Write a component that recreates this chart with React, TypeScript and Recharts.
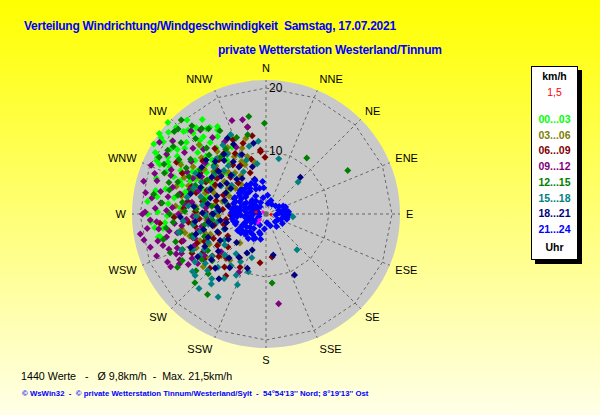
import React from 'react';
import {
  ScatterChart, Scatter, XAxis, YAxis,
  RadarChart, Radar, PolarGrid, PolarAngleAxis, PolarRadiusAxis,
  PieChart, Pie,
} from 'recharts';

// ---------- DATA ----------
const directions = ['N', 'NNE', 'NE', 'ENE', 'E', 'ESE', 'SE', 'SSE', 'S', 'SSW', 'SW', 'WSW', 'W', 'WNW', 'NW', 'NNW'];
const radiusDomain: [number, number] = [0, 20];
const diskMax = 21.27; // km/h at the edge of the grey disk

// [direction in degrees, speed in km/h]
const h00_03: [number, number][] = [
  [313, 21.3], [307, 21.2], [315, 18.5], [325, 16.5], [330, 15.4], [305, 19.9], [304, 18.3], [296, 19.3], [296, 17], [269, 15.7],
  [265, 16.1], [262, 16.5], [258, 17.2], [279, 17.5], [315, 12.1], [316, 9], [304, 6.9], [317, 18.2], [331, 15.9], [333, 11.9],
  [298, 19.4], [298, 17.6], [306, 17.4], [318, 15.7], [321, 15.8], [322, 14.4], [312, 14.6], [300, 13.5], [289, 14.1], [258, 17.5],
  [271, 17.2], [310, 20.2], [320, 19.5], [326, 18.1], [292, 15.8], [284, 16.4], [301, 15.9], [309, 16.6], [314, 13.2], [305, 11.5],
  [296, 12.4], [287, 12.9], [280, 14.8], [274, 13.6], [323, 13.1], [328, 14.5], [311, 10.5], [300, 9.8], [292, 10.9], [286, 9.6],
  [318, 17.3], [302, 21], [335, 13.6], [295, 18.6], [276, 18.9], [266, 18.3],
  [303, 16.8], [297, 15.2], [308, 18.9], [314, 19.8], [321, 17.6], [327, 16.4], [312, 17], [300, 18], [293, 17.2], [288, 18.3],
  [282, 17.9], [276, 15.6], [270, 18.8], [263, 17.8], [268, 14.6], [285, 13.3], [291, 14.6], [307, 14.1], [317, 11.6], [324, 10.6],
  [310, 12.3], [302, 12.9], [294, 13.1], [298, 11], [289, 11.6], [278, 12.1], [272, 11.3], [316, 15], [306, 20.6], [299, 20.1],
];
const h03_06: [number, number][] = [
  [319, 11.7], [337, 8.5], [323, 8.2], [348, 8.3], [257, 13.2], [230, 13], [222, 6.2], [311, 13.6], [301, 10.4], [313, 9.4],
  [306, 12.1], [297, 11.5], [290, 13.1], [284, 10.6], [278, 12.2], [270, 10.9], [263, 11.8], [292, 8.9], [281, 8.2], [268, 7.6],
  [304, 7.3], [328, 11.4], [316, 15.3], [300, 15.6], [287, 14.9], [275, 14.4], [252, 10.1], [244, 12.3], [238, 8.9], [296, 6.5],
  [320, 6.1], [333, 13.4],
  [309, 10.7], [303, 13.8], [299, 12.4], [294, 14.2], [288, 11.9], [282, 13.7], [276, 11.2], [272, 13.3], [266, 12.6], [260, 13.6],
  [254, 12.6], [248, 11.3], [242, 10.2], [234, 11.7], [227, 9.7], [218, 9.3], [286, 7.2], [278, 9.6], [264, 9.4], [257, 8.6],
  [250, 9.4], [314, 11.1], [324, 9.7], [331, 10.4], [340, 11.1], [308, 8.4], [297, 9.3], [289, 10.2],
  [318, 8.9], [327, 7.3], [335, 9.2], [342, 9.6], [310, 6.3], [322, 12.6], [345, 12.4], [330, 12.2],
];
const h06_09: [number, number][] = [
  [359, 9], [355, 10.2], [348, 14.1], [187, 7.8], [172, 6.9], [211, 8.1], [247, 11.9], [242, 13.3], [355, 9.9], [339, 7],
  [228, 10.1], [222, 9.4], [234, 12.2], [256, 10.6], [264, 12.4], [272, 11.2], [281, 10.3], [290, 12.6], [298, 10.8], [306, 9.6],
  [285, 8.2], [270, 8.6], [258, 8.4], [245, 9.2], [296, 14.8], [283, 13.9], [268, 14.6], [252, 14.1], [310, 13.1], [319, 11.4],
  [276, 6.9], [262, 6.4], [240, 7], [326, 9.4], [300, 16.4], [265, 16.9],
  [300, 9.3], [292, 10.1], [287, 11.6], [279, 12.6], [274, 13.1], [266, 10.6], [260, 11.4], [252, 12.2], [246, 10.7], [239, 11.6],
  [232, 10.8], [226, 12.4], [218, 10.7], [206, 9.4], [213, 11.7], [302, 12.3], [312, 10.4], [322, 13.2], [333, 10.8], [342, 11.8],
  [294, 7.4], [283, 6.2], [268, 5.6], [256, 6.9], [248, 8.1], [237, 9.2], [229, 8], [272, 9.6],
  [316, 8.1], [325, 11.7], [332, 8.7], [345, 9], [350, 12.6], [318, 6.6], [336, 12.9],
];
const h09_12: [number, number][] = [
  [271, 19.2], [263, 19], [278, 18.3], [276, 16.8], [256, 17.7], [253, 17.1], [242, 15.5], [240, 15.9], [346, 15.4], [348, 14.1],
  [172, 14.4], [290, 18.8], [301, 18.4], [270, 19.6], [307, 16.2], [316, 14.3], [249, 15.1], [205, 10.2], [282, 17.1], [286, 15.4],
  [266, 17.4], [260, 15.6], [295, 16.6], [298, 14.2], [274, 14.9], [262, 13.5], [252, 13.8], [246, 12.6], [288, 12.7], [279, 11.9],
  [268, 11.6], [256, 11.1], [300, 11.8], [310, 12.6], [292, 9.8], [276, 9.6], [264, 9.2], [248, 10.2], [236, 11.8], [230, 9.3],
  [285, 20.1], [304, 20.4], [293, 19.8], [322, 16.9], [258, 19.8], [244, 17.4], [270, 13.9], [283, 14.1], [237, 14.7],
  [267, 18.4], [273, 17.6], [280, 19.4], [262, 17.2], [257, 16.2], [250, 16.4], [245, 14.8], [239, 13.7], [254, 19.1], [249, 18.6],
  [261, 20.2], [287, 18.1], [292, 16.3], [280, 15.8], [272, 15.8], [264, 14.6], [258, 14.4], [266, 12.7], [277, 13.1], [289, 11.3],
  [296, 12.9], [305, 14.5], [312, 15.6], [318, 17.8], [308, 18.8], [246, 15.6], [241, 17.3], [234, 13.4], [251, 11.9], [259, 10.4],
  [330, 13.2], [340, 15.8], [336, 11.6], [325, 14.8],
];
const h12_15: [number, number][] = [
  [314, 19.4], [323, 17], [350, 15.7], [359, 14.4], [36, 11], [62, 14.7], [175, 11], [216, 15.8], [226, 15.7], [239, 16.4],
  [248, 16.4], [339, 13], [347, 12.9], [318, 20.1], [310, 17.6], [302, 16.3], [292, 17.4], [284, 15.8], [276, 16.6], [265, 14.8],
  [258, 13.9], [296, 13.6], [306, 14.8], [318, 14.1], [328, 12.1], [287, 12.4], [272, 12.9], [262, 11.7], [254, 12.2], [244, 13.1],
  [300, 10.8], [283, 10.1], [268, 9.6], [313, 11.3], [331, 15.1], [298, 19.2], [280, 18.1], [235, 12.5], [256, 16.8], [290, 14.9],
  [306, 18.2],
  [320, 18.3], [326, 16.3], [312, 19.6], [303, 18.6], [296, 18], [288, 16.2], [282, 14.3], [278, 13.4], [270, 15.3], [262, 16],
  [253, 15], [247, 14.4], [241, 15.2], [231, 14.3], [224, 13.2], [229, 11.3], [238, 10.9], [250, 10.4], [260, 9.9], [274, 11.1],
  [292, 12.1], [304, 12.6], [316, 13], [322, 11.6], [308, 10.4], [294, 9.6], [278, 8.7], [264, 8.6], [317, 16.4], [300, 14.6],
];
const h15_18: [number, number][] = [
  [13, 9], [45, 7.2], [139, 7.5], [96, 4.3], [92, 3.8], [354, 11.6], [229, 14.9], [231, 12.4], [198, 7.3], [233, 8.2],
  [197, 9.6], [336, 10.2], [238, 12.3], [236, 13.6], [214, 9.9], [208, 8.6], [244, 10.2], [252, 12.1], [260, 9.3], [268, 11.1],
  [276, 12.4], [285, 10.7], [294, 9.8], [302, 8.4], [312, 11.1], [258, 14.2], [247, 14.6], [273, 7.9], [286, 6.7], [250, 7.1],
  [222, 11.4], [218, 14.1], [265, 13.2], [300, 12.9], [320, 8.1],
  [240, 11.3], [232, 10.9], [226, 12.9], [220, 13.4], [213, 12.2], [206, 10.8], [202, 12.1], [225, 9.2], [217, 7.9], [244, 12.9],
  [255, 10.8], [262, 11.6], [270, 9.6], [278, 10.2], [282, 12.8], [290, 12.2], [296, 11.4], [306, 10.3], [316, 9.6], [327, 11.3],
  [261, 7.8], [268, 8.6], [238, 7.8], [232, 14.8], [210, 15.2], [222, 15.9],
  [322, 9.7], [332, 7.6], [340, 9.1], [346, 11.1], [350, 8.1], [328, 12.9], [318, 11.8], [310, 7.1], [336, 13.8],
];
const h18_21: [number, number][] = [
  [43, 8], [170, 6.6], [155, 10.7], [333, 13.5], [223, 11.8], [214, 10.3], [199, 9.1], [201, 6.1], [328, 9.8], [314, 5.5],
  [242, 11], [250, 8.2], [258, 6.4], [266, 5.3], [274, 7.4], [282, 6.1], [290, 8.3], [298, 7.2], [306, 6.9], [262, 9.2],
  [271, 10.1], [280, 9.4], [292, 11.2], [304, 10.4], [318, 8.3], [246, 13.1], [232, 9.6], [254, 11.6], [285, 12.4], [236, 7.2],
  [226, 6.5], [312, 12.8], [268, 13.6],
  [262, 7.3], [270, 8.4], [278, 7.8], [286, 9.2], [294, 9.6], [302, 8.6], [310, 9.3], [322, 10.8], [316, 11.6], [300, 12.2],
  [276, 11.5], [264, 11.3], [256, 10.2], [248, 9.9], [240, 8.4], [230, 11.3], [220, 9.1], [212, 8.1], [206, 6.9], [216, 12.7],
  [238, 12.8], [250, 6.9], [258, 8.7], [288, 6.9], [296, 5.6], [308, 7.9], [326, 6.8],
  [320, 7.2], [330, 8.6], [338, 10.2], [344, 7.8], [350, 11.4], [325, 11.6], [335, 12.2], [312, 10.1], [306, 12.6], [342, 5.8],
];
const h21_24: [number, number][] = [
  [270, 2], [272, 3], [268, 4], [265, 4.6], [275, 4.8], [280, 3.5], [285, 4.2], [290, 2.9], [295, 4.6], [300, 3.6],
  [305, 5.1], [310, 4.2], [315, 3.1], [320, 5.2], [325, 4.4], [330, 3.3], [338, 4.3], [342, 5.6], [354, 5.2], [326, 5.5],
  [316, 5.3], [250, 3.2], [255, 4.9], [245, 4.1], [240, 2.7], [235, 4.6], [230, 3.3], [225, 4.6], [212, 3.9], [192, 4.1],
  [207, 4.4], [233, 5], [200, 3.1], [174, 1.4], [260, 2.4], [262, 5.4], [278, 5.5], [288, 5.4], [298, 5.6], [308, 5.4],
  [283, 1.3], [300, 1.8], [250, 1.2], [240, 5.2], [258, 5.3], [272, 5.5], [262, 3.4], [267, 5], [273, 4.3], [278, 4.2],
  [283, 5.1], [287, 3.3], [292, 5.2], [297, 2.4], [302, 4.6], [307, 3], [312, 5.5], [318, 4.4], [322, 2.6], [328, 4.8],
  [334, 5.4], [340, 4.9], [346, 4.2], [252, 5.1], [247, 2.3], [242, 4.5], [237, 3.7], [228, 4.2], [220, 3], [216, 4.8],
  [204, 4.2], [196, 3.3], [186, 2.4], [355, 4.2], [350, 2.6], [5, 3], [290, 1.6], [270, 1.1], [240, 1.7], [210, 2],
  [276, 2.4], [284, 2.2], [256, 2.7], [310, 2.2], [320, 1.5], [335, 2], [264, 3.2], [281, 4.6], [294, 3.8], [304, 2.7],
  [314, 4.8], [248, 3.6], [232, 2.2], [222, 3.8],
  [77, 2.8], [100, 3.4], [90, 3.2], [85, 2.1], [110, 2.5], [120, 3], [70, 3.3], [60, 2.4], [95, 1.6], [130, 1.9],
  [20, 2.3], [80, 3.3], [88, 2.6], [74, 2.1], [96, 2.8], [116, 2.1], [65, 3], [50, 2], [30, 1.8], [10, 1.7],
  [160, 2], [140, 2.6], [104, 3.4], [84, 3.6], [92, 3.5],
];
const calmRed: [number, number][] = [[281, 1.6], [95, 0.8]];
const calmMagenta: [number, number][] = [[225, 1.35], [222, 1.9], [304, 0.6], [230, 1.5]];

const hourLabels = ['00...03', '03...06', '06...09', '09...12', '12...15', '15...18', '18...21', '21...24'];
const hourColors = ['#00ff00', '#808000', '#800000', '#800080', '#008000', '#008080', '#000080', '#0000ff'];
const hourData = [h00_03, h03_06, h06_09, h09_12, h12_15, h15_18, h18_21, h21_24];

const titleText = 'Verteilung Windrichtung/Windgeschwindigkeit  Samstag, 17.07.2021';
const subtitleText = 'private Wetterstation Westerland/Tinnum';
const statsText = '1440 Werte   -   Ø 9,8km/h  -  Max. 21,5km/h';
const footerText = "© WsWin32  -  © private Wetterstation Tinnum/Westerland/Sylt  -  54°54'13'' Nord; 8°19'13'' Ost";
const calmLabel = '1,5';

// ---------- helpers ----------
const toXY = (pts: [number, number][]) =>
  pts.map(([d, s]) => ({ x: s * Math.sin((d * Math.PI) / 180), y: s * Math.cos((d * Math.PI) / 180) }));

const dirTable = directions.map((d) => ({ dir: d, zero: 0 }));

const FONT = '"Liberation Sans", Arial, sans-serif';
const CX = 266;
const CY = 214;
const R_DISK = 134;
const R_20 = 126;
const GRID_STROKE = '#666666';
const GRID_DASH = '3 3';

const makeDiamond = (r: number) => (props: any) => {
  const { cx, cy, fill } = props;
  if (cx == null || cy == null) return <g />;
  return <path d={`M${cx},${cy - r}L${cx + r},${cy}L${cx},${cy + r}L${cx - r},${cy}Z`} fill={fill} />;
};
const Diamond = makeDiamond(3.5);
const SmallDiamond = makeDiamond(2);

const AngleTick = (props: any) => {
  const { x, y, payload } = props;
  const rad = (payload.coordinate * Math.PI) / 180;
  const ux = Math.cos(rad);
  const uy = -Math.sin(rad);
  const anchor = Math.abs(ux) < 1e-5 ? 'middle' : ux > 0 ? 'start' : 'end';
  return (
    <text x={x - 2 * ux} y={y + 4 * uy} textAnchor={anchor} dominantBaseline="central" fontSize={11} fontFamily={FONT} fill="#000">
      {payload.value}
    </text>
  );
};

const RadiusTick = (props: any) => {
  const { x, y, payload } = props;
  if (!payload || payload.value === 0) return <g />;
  return (
    <text x={x + 3} y={y} textAnchor="start" dominantBaseline="central" fontSize={12} fontFamily={FONT} fill="#000">
      {payload.value}
    </text>
  );
};

const layer: React.CSSProperties = { position: 'absolute', left: 0, top: 0 };
const zeroMargin = { top: 0, right: 0, bottom: 0, left: 0 };

export default function App() {
  return (
    <div
      style={{
        position: 'absolute', left: 0, top: 0, width: 600, height: 415, overflow: 'hidden',
        background: 'linear-gradient(to bottom, #ffff00 0%, #ffff66 45%, #ffffe8 100%)',
        fontFamily: FONT,
      }}
    >
      {/* grey disk */}
      <div style={layer}>
        <PieChart width={600} height={415} margin={zeroMargin}>
          <Pie data={[{ v: 1 }]} dataKey="v" cx={CX} cy={CY} outerRadius={R_DISK} innerRadius={0}
            fill="#c9c9c9" stroke="none" isAnimationActive={false} />
        </PieChart>
      </div>
      {/* spokes + direction labels */}
      <div style={layer}>
        <RadarChart width={600} height={415} cx={CX} cy={CY} outerRadius={R_DISK} data={dirTable} margin={zeroMargin}>
          <PolarGrid gridType="polygon" polarRadius={[0]} fill="none" stroke={GRID_STROKE} strokeDasharray={GRID_DASH} />
          <PolarAngleAxis dataKey="dir" tick={AngleTick} tickLine={false} axisLine={false} />
          <Radar dataKey="zero" fill="none" stroke="none" dot={false} isAnimationActive={false} />
        </RadarChart>
      </div>
      {/* rings 10 / 20 + radius labels */}
      <div style={layer}>
        <RadarChart width={600} height={415} cx={CX} cy={CY} outerRadius={R_20} data={dirTable} margin={zeroMargin}>
          <PolarGrid gridType="polygon" radialLines={false} fill="none" stroke={GRID_STROKE} strokeDasharray={GRID_DASH} />
          <PolarAngleAxis dataKey="dir" tick={false} tickLine={false} axisLine={false} />
          <PolarRadiusAxis angle={90} type="number" domain={radiusDomain} tickCount={3} axisLine={false} tick={RadiusTick} />
          <Radar dataKey="zero" fill="none" stroke="none" dot={false} isAnimationActive={false} />
        </RadarChart>
      </div>
      {/* points */}
      <div style={layer}>
        <ScatterChart width={600} height={415}
          margin={{ top: CY - R_DISK, left: CX - R_DISK, right: 600 - CX - R_DISK, bottom: 415 - CY - R_DISK }}>
          <XAxis type="number" dataKey="x" domain={[-diskMax, diskMax]} allowDataOverflow hide />
          <YAxis type="number" dataKey="y" domain={[-diskMax, diskMax]} allowDataOverflow hide />
          {hourData.map((pts, i) => (
            <Scatter key={hourLabels[i]} name={hourLabels[i]} data={toXY(pts)} fill={hourColors[i]} shape={Diamond} isAnimationActive={false} />
          ))}
          <Scatter name="calm" data={toXY(calmRed)} fill="#ff0000" shape={SmallDiamond} isAnimationActive={false} />
          <Scatter name="calm2" data={toXY(calmMagenta)} fill="#ff00ff" shape={SmallDiamond} isAnimationActive={false} />
        </ScatterChart>
      </div>

      {/* titles */}
      <div style={{ position: 'absolute', left: 24, top: 19, fontSize: 12, lineHeight: '14px', fontWeight: 'bold', color: '#0000ff', letterSpacing: -0.25, whiteSpace: 'pre' }}>
        {titleText}
      </div>
      <div style={{ position: 'absolute', left: 218, top: 43, fontSize: 12, lineHeight: '14px', fontWeight: 'bold', color: '#0000ff', letterSpacing: -0.25, whiteSpace: 'pre' }}>
        {subtitleText}
      </div>

      {/* legend box */}
      <div style={{ position: 'absolute', left: 531, top: 66, width: 47, height: 194, boxSizing: 'border-box', background: '#fff', border: '1px solid #000', boxShadow: '4px 4px 0 #000' }} />
      {[
        { t: 'km/h', c: '#000', w: 'bold', y: 75.7 },
        { t: calmLabel, c: '#ff0000', w: 'normal', y: 92 },
        ...hourLabels.map((t, i) => ({ t, c: hourColors[i], w: 'bold', y: 119 + i * 15.7 })),
        { t: 'Uhr', c: '#000', w: 'bold', y: 246.7 },
      ].map((it) => (
        <div key={it.t} style={{ position: 'absolute', left: 531, width: 47, top: it.y - 7, height: 14, lineHeight: '14px', textAlign: 'center', fontSize: 10.5, fontWeight: it.w as any, color: it.c }}>
          {it.t}
        </div>
      ))}

      {/* bottom texts */}
      <div style={{ position: 'absolute', left: 21, top: 370, fontSize: 10.7, lineHeight: '13px', color: '#000', whiteSpace: 'pre' }}>
        {statsText}
      </div>
      <div style={{ position: 'absolute', left: 22, top: 389, fontSize: 7.8, lineHeight: '10px', color: '#0000ff', whiteSpace: 'pre', fontWeight: 'bold' }}>
        {footerText}
      </div>
    </div>
  );
}
